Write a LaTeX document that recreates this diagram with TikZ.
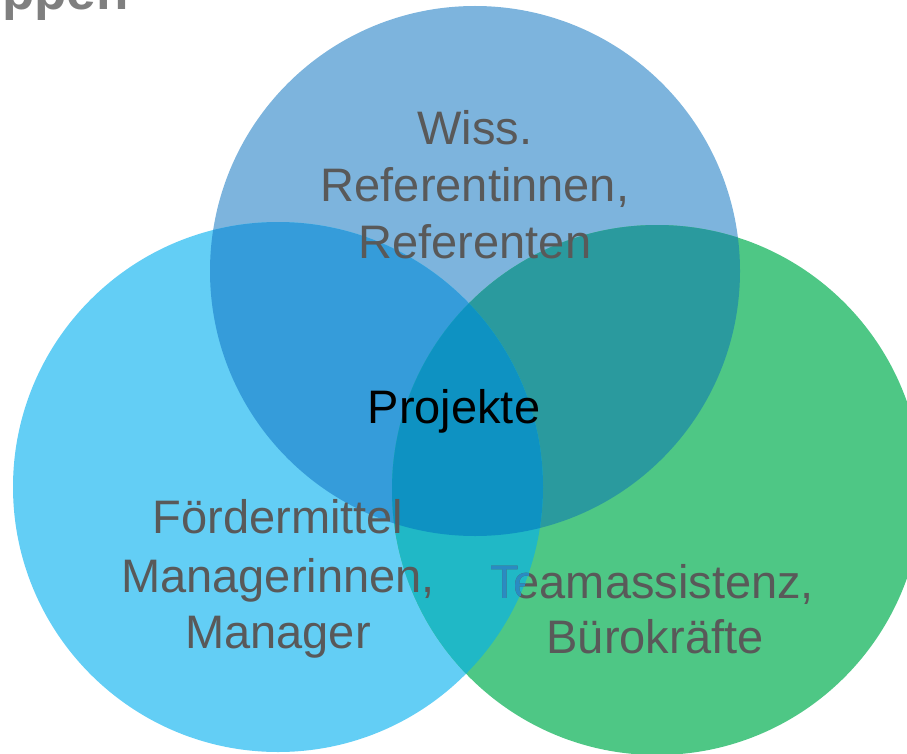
\documentclass[tikz,border=0pt]{standalone}
\usepackage{fontspec}
\setmainfont{Liberation Sans}
\definecolor{cTop}{HTML}{7DB4DD}
\definecolor{cLeft}{HTML}{63CEF5}
\definecolor{cGreen}{HTML}{4EC785}
\definecolor{cTL}{HTML}{359CDA}
\definecolor{cTG}{HTML}{2A9A9E}
\definecolor{cLG}{HTML}{20B8C6}
\definecolor{cAll}{HTML}{0E92C2}
\definecolor{cTe}{HTML}{2A8BC2}
\definecolor{txtgray}{HTML}{595959}
\definecolor{titlegray}{HTML}{7F7F7F}
\begin{document}
\begin{tikzpicture}[x=1pt,y=-1pt,
  lbl/.style={text=txtgray, font=\fontsize{47}{57}\selectfont, inner sep=0pt, anchor=base}]
\useasboundingbox (0,0) rectangle (907,754);
\coordinate (cT) at (475,271);
\coordinate (cL) at (278,487);
\coordinate (cG) at (657,490);
% single circles
\fill[cTop] (cT) circle[radius=265pt];
\fill[cLeft] (cL) circle[radius=265pt];
\fill[cGreen] (cG) circle[radius=265pt];
% pairwise overlaps
\begin{scope}
  \clip (cT) circle[radius=265pt];
  \fill[cTL] (cL) circle[radius=265pt];
  \fill[cTG] (cG) circle[radius=265pt];
\end{scope}
\begin{scope}
  \clip (cL) circle[radius=265pt];
  \fill[cLG] (cG) circle[radius=265pt];
\end{scope}
% triple overlap
\begin{scope}
  \clip (cT) circle[radius=265pt];
  \clip (cL) circle[radius=265pt];
  \fill[cAll] (cG) circle[radius=265pt];
\end{scope}
% title fragment (cut off at the top edge, as in the reference)
\node[anchor=base west, inner sep=0pt, font=\bfseries\fontsize{53}{60}\selectfont, text=titlegray] (title) at (2,10) {ppen};
% labels
\node[lbl] (w1) at (475,145) {Wiss.};
\node[lbl] (w2) at (475,202) {Referentinnen,};
\node[lbl] (w3) at (475,258) {Referenten};
\node[lbl,text=black] (proj) at (454,423) {Projekte};
\node[lbl] (f1) at (278,533) {Fördermittel};
\node[lbl] (f2) at (278,592) {Managerinnen,};
\node[lbl] (f3) at (278,648) {Manager};
\node[lbl] (t1) at (652,598) {Teamassistenz,};
\node[lbl] (t2) at (655,653) {Bürokräfte};
\begin{scope}
  \clip (cL) circle[radius=265pt];
  \node[lbl,text=cTe] (t1tint) at (652,598) {Teamassistenz,};
\end{scope}
\end{tikzpicture}
\end{document}
